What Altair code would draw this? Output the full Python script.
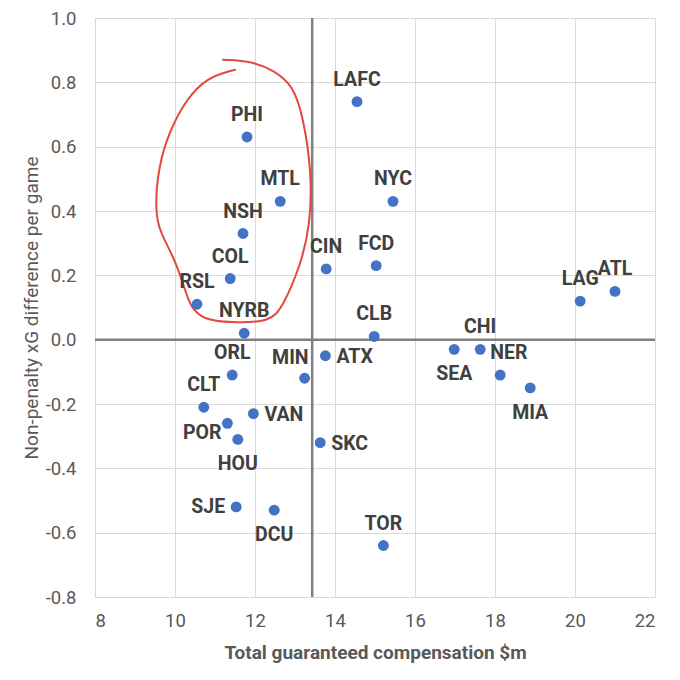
import altair as alt
import pandas as pd

# ---- data ----
teams = ["LAFC", "PHI", "MTL", "NYC", "NSH", "CIN", "FCD", "COL", "RSL", "NYRB",
         "CLB", "LAG", "ATL", "SEA", "CHI", "NER", "MIA", "ORL", "MIN", "ATX",
         "CLT", "VAN", "POR", "HOU", "SKC", "SJE", "DCU", "TOR"]
compensation = [14.55, 11.80, 12.63, 15.45, 11.70, 13.78, 15.03, 11.38, 10.55, 11.73,
                14.98, 20.13, 21.00, 16.98, 17.63, 18.13, 18.88, 11.43, 13.24, 13.76,
                10.72, 11.96, 11.31, 11.57, 13.63, 11.53, 12.48, 15.21]
xg_diff = [0.74, 0.63, 0.43, 0.43, 0.33, 0.22, 0.23, 0.19, 0.11, 0.02,
           0.01, 0.12, 0.15, -0.03, -0.03, -0.11, -0.15, -0.11, -0.12, -0.05,
           -0.21, -0.23, -0.26, -0.31, -0.32, -0.52, -0.53, -0.64]

# label placement groups (compass side of the point)
label_side = {
    "N": ["LAFC", "PHI", "MTL", "NYC", "NSH", "CIN", "FCD", "COL", "RSL", "NYRB",
          "CLB", "LAG", "ATL", "CHI", "ORL", "CLT", "TOR"],
    "S": ["SEA", "MIA", "HOU", "DCU"],
    "E": ["ATX", "VAN", "SKC"],
    "W": ["SJE"],
    "NW": ["MIN"],
    "SW": ["POR"],
    "NE": ["NER"],
}

# dividing line (x) and zero line (y)
divider_x = [13.43]
zero_y = [0.0]

# hand-drawn red annotation loop (data units)
loop_x = [11.50, 10.79, 10.29, 9.88, 9.58, 9.50, 9.63, 10.00, 10.25, 10.38, 10.70,
          11.38, 12.38, 12.70, 13.13, 13.38, 13.42, 13.20, 12.95, 12.50, 11.88, 11.20]
loop_y = [0.839, 0.815, 0.748, 0.654, 0.540, 0.396, 0.333, 0.249, 0.156, 0.104, 0.062,
          0.053, 0.054, 0.104, 0.228, 0.353, 0.520, 0.696, 0.789, 0.836, 0.867, 0.870]

x_ticks = [8, 10, 12, 14, 16, 18, 20, 22]
y_ticks = [-0.8, -0.6, -0.4, -0.2, 0.0, 0.2, 0.4, 0.6, 0.8, 1.0]

# ---- styling ----
FONT = "Roboto"
DOT = "#4472C4"
LABEL = "#404040"
AXIS_TXT = "#595959"
FRAME = "#808080"
W, H = 560, 579

side_style = {
    "N": dict(dx=0, dy=-22, align="center"),
    "S": dict(dx=0, dy=25, align="center"),
    "E": dict(dx=11, dy=1, align="left"),
    "W": dict(dx=-11, dy=0, align="right"),
    "NW": dict(dx=4, dy=-20, align="right"),
    "SW": dict(dx=-6, dy=10, align="right"),
    "NE": dict(dx=-10, dy=-22, align="left"),
}

df = pd.DataFrame({"team": teams, "comp": compensation, "xg": xg_diff})
side_of = {t: s for s, lst in label_side.items() for t in lst}
df["side"] = df["team"].map(side_of)

loop_df = pd.DataFrame({"x": loop_x, "y": loop_y, "i": list(range(len(loop_x)))})

xs = alt.Scale(domain=[8, 22], nice=False, zero=False)
ys = alt.Scale(domain=[-0.8, 1.0], nice=False, zero=False)

x_axis = alt.Axis(values=x_ticks, title="Total guaranteed compensation $m",
                  grid=True, gridColor="#d9d9d9", gridWidth=1, domain=False, ticks=False,
                  labelFont=FONT, labelFontSize=18.5, labelColor=AXIS_TXT, labelPadding=14,
                  titleFont=FONT, titleFontSize=19, titleFontWeight="bold", titleColor=AXIS_TXT,
                  titleX=W / 2, titleY=55, titleBaseline="middle", titleAlign="center")
y_axis = alt.Axis(values=y_ticks, title="Non-penalty xG difference per game",
                  labelExpr="replace(format(datum.value, '.1f'), '\u2212', '-')",
                  grid=True, gridColor="#d9d9d9", gridWidth=1, domain=False, ticks=False,
                  labelFont=FONT, labelFontSize=18.5, labelColor=AXIS_TXT, labelPadding=19,
                  titleFont=FONT, titleFontSize=19, titleFontWeight="normal", titleColor=AXIS_TXT,
                  titleAngle=-90, titleX=-64, titleY=H / 2, titleBaseline="middle",
                  titleAlign="center")

base = alt.Chart(df)

points = base.mark_circle(size=118, opacity=1, color=DOT).encode(
    x=alt.X("comp:Q", scale=xs, axis=x_axis),
    y=alt.Y("xg:Q", scale=ys, axis=y_axis),
)

vline = alt.Chart(pd.DataFrame({"x": divider_x})).mark_rule(
    color=FRAME, strokeWidth=2.5).encode(x=alt.X("x:Q", scale=xs))
hline = alt.Chart(pd.DataFrame({"y": zero_y})).mark_rule(
    color=FRAME, strokeWidth=2.5).encode(y=alt.Y("y:Q", scale=ys))

loop = alt.Chart(loop_df).mark_line(
    color="#E5463D", strokeWidth=2, interpolate="basis", strokeCap="round").encode(
    x=alt.X("x:Q", scale=xs), y=alt.Y("y:Q", scale=ys), order="i:Q")

label_layers = []
for side, st in side_style.items():
    label_layers.append(
        base.transform_filter(alt.datum.side == side).mark_text(
            font=FONT, fontSize=19.5, fontWeight="bold", color=LABEL,
            baseline="middle", **st).encode(
            x=alt.X("comp:Q", scale=xs), y=alt.Y("xg:Q", scale=ys), text="team:N")
    )

chart = alt.layer(vline, hline, loop, points, *label_layers).properties(
    width=W, height=H,
    autosize=alt.AutoSizeParams(type="none"),
    padding={"left": 87, "top": 10, "right": 17, "bottom": 75},
).configure_view(stroke=FRAME, strokeWidth=2.5).configure(background="white")

chart.save("out.html", embed_options={"renderer": "svg", "actions": False})
